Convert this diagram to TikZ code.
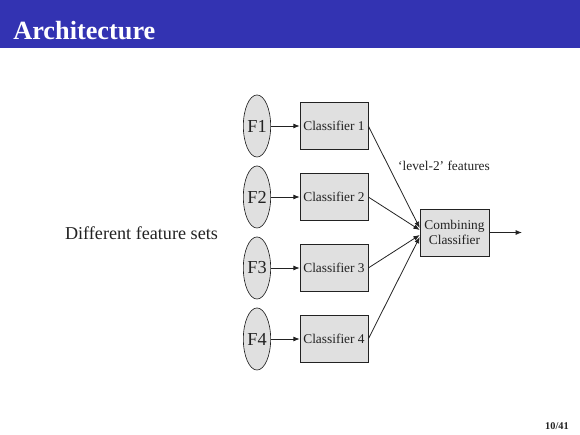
\documentclass[tikz,border=0pt]{standalone}
\usepackage{fontspec}
\setmainfont{Liberation Serif}
\usepackage{xcolor}
\definecolor{slideBlue}{HTML}{3333B2}
\definecolor{boxGrey}{HTML}{E0E0E0}
\definecolor{inkGrey}{HTML}{222222}
\usetikzlibrary{shapes.geometric,arrows.meta,calc}

\begin{document}
\begin{tikzpicture}[x=0.2207mm, y=-0.2207mm, >={Latex[length=1.4mm,width=1.1mm]},
  featset/.style={ellipse, draw=inkGrey, fill=boxGrey, minimum width=5.7mm, minimum height=13.7mm, inner sep=0pt, text=inkGrey, font=\fontsize{11.5}{13}\selectfont},
  clbox/.style={rectangle, draw=inkGrey, fill=boxGrey, minimum width=15mm, minimum height=10.4mm, inner sep=1pt, align=center, text=inkGrey, font=\fontsize{8.4}{10}\selectfont}]
  \useasboundingbox (0,0) rectangle (580,435);
  % title bar
  \fill[slideBlue] (0,0) rectangle (580,48);
  \node[anchor=base west, white, inner sep=0pt, font=\fontsize{16.5}{18}\selectfont\bfseries] (title) at (13,40) {Architecture};
  % feature sets feeding the classifiers
  \foreach \i/\y in {1/126, 2/197, 3/268, 4/339} {
    \node[featset] (f\i) at (257,\y) {F\i};
    \node[clbox] (c\i) at (334,\y) {Classifier \i};
    \draw[->, inkGrey, line width=0.5pt] (f\i) -- (c\i);
  }
  \node[anchor=base, text=inkGrey, font=\fontsize{11.4}{13}\selectfont] (sets) at (141.5,240) {Different feature sets};
  % the combiner
  \node[clbox, minimum width=15.2mm] (comb) at (454.5,232.5) {Combining\\[-0.6pt]Classifier};
  \foreach \i/\dy in {1/-4.5, 2/-2.5, 3/2.5, 4/4.5}
    \draw[->, inkGrey, line width=0.5pt] (c\i.east) -- ($(comb.west)+(0,\dy)$);
  \node[text=inkGrey, font=\fontsize{8.4}{10}\selectfont] (lvl) at (444,166) {`level-2' features};
  \coordinate (out) at (522,232.5);
  \draw[->, inkGrey, line width=0.5pt] (comb) -- (out);
  % page number
  \node[anchor=base, text=inkGrey, inner sep=0pt, font=\fontsize{6.5}{8}\selectfont\bfseries] (page) at (557,430) {10/41};
\end{tikzpicture}
\end{document}
